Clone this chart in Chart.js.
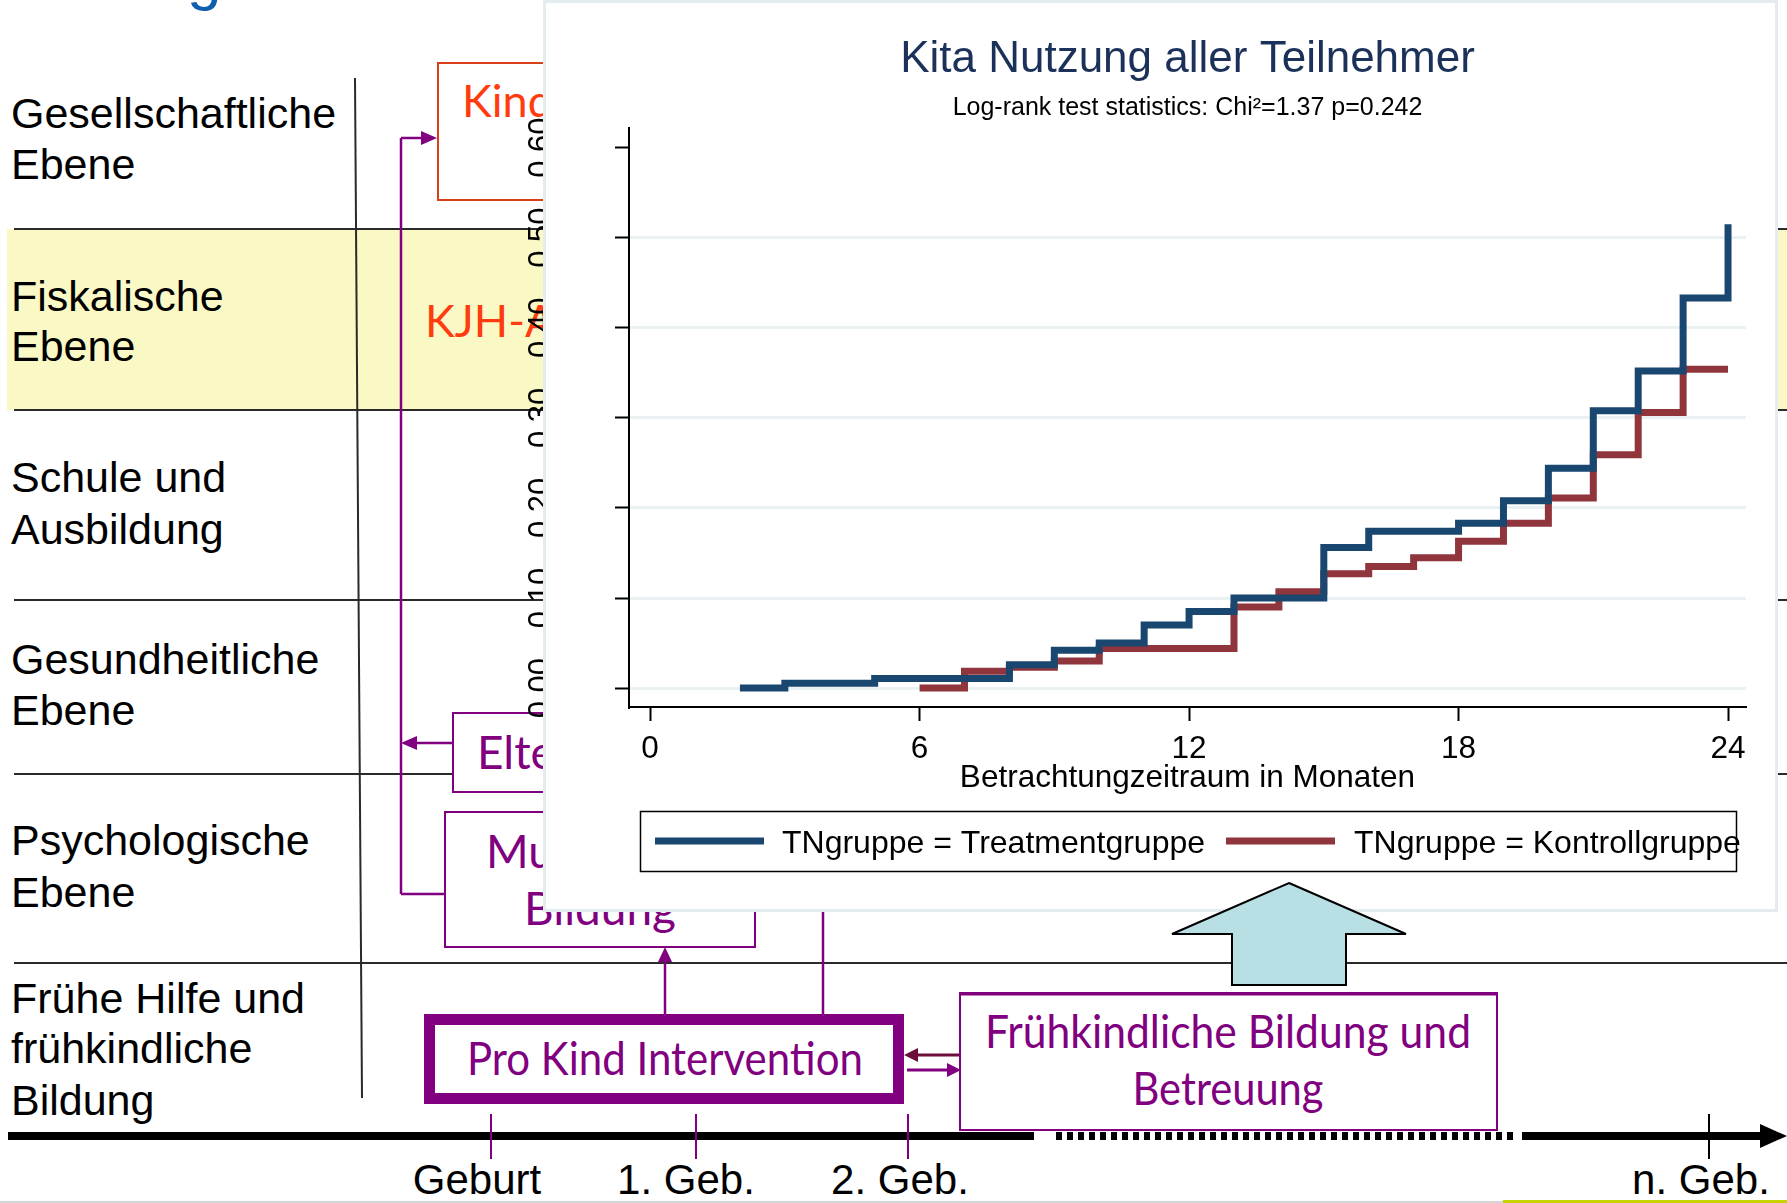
<!DOCTYPE html>
<html>
<head>
<meta charset="utf-8">
<title>Kita Nutzung aller Teilnehmer</title>
<script src="https://cdn.jsdelivr.net/npm/chart.js@4.4.1/dist/chart.umd.min.js"></script>
<style>
  html, body { margin: 0; padding: 0; background: #fff; }
  #stage { position: relative; width: 1787px; height: 1203px; overflow: hidden; }
  #bg, #fg, #chart { position: absolute; left: 0; top: 0; }
  #chart { z-index: 1; }
  #fg { z-index: 2; pointer-events: none; }
  .lbl { font-family: "Liberation Sans", Arial, sans-serif; font-size: 43px; fill: #000; }
  .tl { font-family: "Liberation Sans", Arial, sans-serif; font-size: 42px; fill: #000; text-anchor: middle; }
  .pur { font-family: Lato, "Open Sans", sans-serif; font-size: 46px; fill: #800080; }
  .red { font-family: Lato, "Open Sans", sans-serif; font-size: 45px; fill: #ff3b0f; }
</style>
</head>
<body>
<div id="stage">
  <!-- slide behind the chart -->
  <svg id="bg" width="1787" height="1203" viewBox="0 0 1787 1203">
    <text x="187" y="-2" style="font-family:'Liberation Sans',Arial,sans-serif;font-size:62px;fill:#0f5fb0">g</text>
    <rect x="7" y="229" width="1780" height="181" fill="#faf8c5"/>
    <g stroke="#2a2a2a" stroke-width="2">
      <line x1="14" y1="229" x2="1787" y2="229"/>
      <line x1="14" y1="410" x2="1787" y2="410"/>
      <line x1="14" y1="600" x2="1787" y2="600"/>
      <line x1="14" y1="774" x2="1787" y2="774"/>
      <line x1="14" y1="963" x2="1787" y2="963"/>
      <line x1="355" y1="78" x2="362" y2="1098"/>
    </g>

    <text class="lbl" x="11" y="128">Gesellschaftliche</text>
    <text class="lbl" x="11" y="179">Ebene</text>
    <text class="lbl" x="11" y="311">Fiskalische</text>
    <text class="lbl" x="11" y="361">Ebene</text>
    <text class="lbl" x="11" y="492">Schule und</text>
    <text class="lbl" x="11" y="544">Ausbildung</text>
    <text class="lbl" x="11" y="674">Gesundheitliche</text>
    <text class="lbl" x="11" y="725">Ebene</text>
    <text class="lbl" x="11" y="855">Psychologische</text>
    <text class="lbl" x="11" y="907">Ebene</text>
    <text class="lbl" x="11" y="1013">Frühe Hilfe und</text>
    <text class="lbl" x="11" y="1063">frühkindliche</text>
    <text class="lbl" x="11" y="1115">Bildung</text>

    <rect x="438" y="63" width="200" height="137" fill="#fff" stroke="#d9401a" stroke-width="2"/>
    <text class="red" x="462" y="117">Kind</text>
    <text class="red" x="425" y="337">KJH-A</text>

    <g stroke="#800080" stroke-width="2.5" fill="none">
      <line x1="401" y1="138" x2="401" y2="894"/>
      <line x1="401" y1="138" x2="423" y2="138"/>
      <line x1="401" y1="894" x2="445" y2="894"/>
      <line x1="453" y1="743" x2="415" y2="743"/>
      <line x1="665" y1="1014" x2="665" y2="960"/>
      <line x1="823" y1="1014" x2="823" y2="900"/>
    </g>
    <g fill="#800080">
      <polygon points="437,138 421,131 421,145"/>
      <polygon points="401,743 417,736 417,750"/>
      <polygon points="665,947 658,962 672,962"/>
    </g>

    <rect x="453" y="713" width="200" height="79" fill="#fff" stroke="#800080" stroke-width="2"/>
    <text class="pur" x="477" y="769">Elte</text>
    <rect x="445" y="812" width="310" height="135" fill="#fff" stroke="#800080" stroke-width="2"/>
    <text class="pur" x="486" y="868">Mu</text>
    <text class="pur" x="524" y="925" textLength="152" lengthAdjust="spacingAndGlyphs">Bildung</text>

    <rect x="429.5" y="1019.5" width="469" height="79" fill="#fff" stroke="#800080" stroke-width="11"/>
    <text class="pur" x="665" y="1075" text-anchor="middle" textLength="396" lengthAdjust="spacingAndGlyphs">Pro Kind Intervention</text>

    <line x1="967" y1="1055" x2="915" y2="1055" stroke="#6b0f3a" stroke-width="3"/>
    <polygon points="904,1055 918,1048 918,1062" fill="#6b0f3a"/>
    <line x1="907" y1="1070" x2="950" y2="1070" stroke="#800080" stroke-width="3"/>
    <polygon points="961,1070 947,1063 947,1077" fill="#800080"/>

    <rect x="960" y="993" width="537" height="137" fill="#fff" stroke="#800080" stroke-width="2"/>
    <line x1="960" y1="994" x2="1497" y2="994" stroke="#800080" stroke-width="3"/>
    <text class="pur" x="1228" y="1048" text-anchor="middle" textLength="486" lengthAdjust="spacingAndGlyphs">Frühkindliche Bildung und</text>
    <text class="pur" x="1228" y="1105" text-anchor="middle" textLength="191" lengthAdjust="spacingAndGlyphs">Betreuung</text>

    <g stroke="#000" stroke-width="8">
      <line x1="8" y1="1136" x2="1034" y2="1136"/>
      <line x1="1056" y1="1136" x2="1517" y2="1136" stroke-dasharray="6 5"/>
      <line x1="1522" y1="1136" x2="1764" y2="1136"/>
    </g>
    <polygon points="1787,1136 1760,1124 1760,1148" fill="#000"/>
    <g stroke-width="2">
      <line x1="491" y1="1114" x2="491" y2="1159" stroke="#800080"/>
      <line x1="696" y1="1114" x2="696" y2="1159" stroke="#800080"/>
      <line x1="908" y1="1114" x2="908" y2="1159" stroke="#800080"/>
      <line x1="1709" y1="1114" x2="1709" y2="1159" stroke="#000"/>
    </g>
    <text class="tl" x="477" y="1194">Geburt</text>
    <text class="tl" x="686" y="1194">1. Geb.</text>
    <text class="tl" x="900" y="1194">2. Geb.</text>
    <text class="tl" x="1701" y="1194">n. Geb.</text>
    <line x1="0" y1="1202" x2="1787" y2="1202" stroke="#d6d6d6" stroke-width="2"/>
    <line x1="1503" y1="1201.5" x2="1787" y2="1201.5" stroke="#c5d300" stroke-width="3"/>
  </svg>

  <canvas id="chart" width="1787" height="1203"></canvas>

  <!-- arrow lying over the chart panel -->
  <svg id="fg" width="1787" height="1203" viewBox="0 0 1787 1203">
    <polygon points="1289,883 1406,934 1346,934 1346,985 1232,985 1232,934 1172,934"
             fill="#b8dfe3" stroke="#000" stroke-width="2"/>
  </svg>
</div>

<script>
  // Kaplan-Meier style cumulative curves
  const treatTimes  = [2, 3, 5, 8, 9, 10, 11, 12, 13, 15, 16, 18, 19, 20, 21, 22, 23, 24];
  const treatValues = [0, 0.0055, 0.0106, 0.026, 0.042, 0.050, 0.070, 0.085, 0.100,
                       0.156, 0.174, 0.183, 0.208, 0.244, 0.308, 0.352, 0.433, 0.515];
  const ctrlTimes   = [6, 7, 8, 9, 10, 13, 14, 15, 16, 17, 18, 19, 20, 21, 22, 23, 24];
  const ctrlValues  = [0, 0.0187, 0.023, 0.030, 0.044, 0.090, 0.107, 0.127, 0.135,
                       0.1446, 0.163, 0.183, 0.211, 0.259, 0.306, 0.354, 0.354];
  const seriesLabels = ['TNgruppe = Treatmentgruppe', 'TNgruppe = Kontrollgruppe'];
  const seriesColors = ['#1a476f', '#90353b'];
  const xTicks = [0, 6, 12, 18, 24];
  const yTicks = [0, 0.1, 0.2, 0.3, 0.4, 0.5, 0.6];
  const yTickLabels = ['0.00', '0.10', '0.20', '0.30', '0.40', '0.50', '0.60'];

  const FONT = '"Liberation Sans", Arial, Helvetica, sans-serif';
  Chart.defaults.font.family = FONT;
  Chart.defaults.color = '#000';

  function toPoints(xs, ys) {
    return xs.map((x, i) => ({ x: x, y: ys[i] }));
  }

  /**
   * White graph panel + rotated y labels (they stick out left of the panel)
   */
  const panelPlugin = {
    id: 'panel',
    beforeDraw(chart) {
      const ctx = chart.ctx;
      const ys = chart.scales.y;

      ctx.save();
      ctx.beginPath();
      ctx.rect(0, 0, 543, chart.height);
      ctx.clip();
      ctx.font = '31px ' + FONT;
      ctx.fillStyle = '#000';
      ctx.textAlign = 'center';
      ctx.textBaseline = 'alphabetic';
      yTicks.forEach(function (v, i) {
        ctx.save();
        ctx.translate(550, ys.getPixelForValue(v));
        ctx.rotate(-Math.PI / 2);
        ctx.fillText(yTickLabels[i], 0, 0);
        ctx.restore();
      });
      ctx.restore();

      ctx.save();
      ctx.fillStyle = '#fff';
      ctx.fillRect(543, 0, 1235, 912);
      ctx.strokeStyle = '#e3ecef';
      ctx.lineWidth = 3;
      ctx.strokeRect(544.5, 1.5, 1232, 909);
      ctx.restore();
    }
  };

  /**
   * Stata-like legend box below the axis title
   */
  const legendBoxPlugin = {
    id: 'legendBox',
    afterDraw(chart) {
      const ctx = chart.ctx;
      const lineX = [655, 1226];
      const textX = [782, 1354];
      const y = 844;

      ctx.save();
      ctx.strokeStyle = '#000';
      ctx.lineWidth = 1.5;
      ctx.strokeRect(640.5, 811.5, 1096, 60);

      ctx.font = '32px ' + FONT;
      ctx.textBaseline = 'middle';
      ctx.textAlign = 'left';
      chart.data.datasets.forEach(function (ds, i) {
        ctx.strokeStyle = ds.borderColor;
        ctx.lineWidth = 7;
        ctx.beginPath();
        ctx.moveTo(lineX[i], 841);
        ctx.lineTo(lineX[i] + 109, 841);
        ctx.stroke();
        ctx.fillStyle = '#000';
        ctx.fillText(ds.label, textX[i], y);
      });
      ctx.restore();
    }
  };

  const ctx = document.getElementById('chart').getContext('2d');

  new Chart(ctx, {
    type: 'line',
    data: {
      datasets: [
        {
          label: seriesLabels[0],
          data: toPoints(treatTimes, treatValues),
          borderColor: seriesColors[0],
          backgroundColor: seriesColors[0],
          borderWidth: 7,
          stepped: 'before',
          pointRadius: 0,
          borderJoinStyle: 'miter',
          borderCapStyle: 'butt',
          fill: false
        },
        {
          label: seriesLabels[1],
          data: toPoints(ctrlTimes, ctrlValues),
          borderColor: seriesColors[1],
          backgroundColor: seriesColors[1],
          borderWidth: 7,
          stepped: 'before',
          pointRadius: 0,
          borderJoinStyle: 'miter',
          borderCapStyle: 'butt',
          fill: false
        }
      ]
    },
    options: {
      responsive: false,
      animation: false,
      devicePixelRatio: 1,
      layout: {
        padding: { left: 629, right: 41, top: 0, bottom: 402 }
      },
      plugins: {
        legend: { display: false },
        tooltip: { enabled: false },
        title: {
          display: true,
          text: 'Kita Nutzung aller Teilnehmer',
          color: '#1c3159',
          font: { size: 44, weight: 'normal' },
          padding: { top: 33, bottom: 0 }
        },
        subtitle: {
          display: true,
          text: 'Log-rank test statistics: Chi²=1.37 p=0.242',
          color: '#000',
          font: { size: 25, weight: 'normal' },
          padding: { top: 7, bottom: 5 }
        }
      },
      scales: {
        x: {
          type: 'linear',
          min: -0.47,
          max: 24.4,
          afterBuildTicks: function (scale) {
            scale.ticks = xTicks.map(v => ({ value: v }));
          },
          afterFit: function (scale) {
            scale.height = 94;
          },
          ticks: {
            font: { size: 31.5 },
            color: '#000',
            padding: 9,
            maxRotation: 0,
            autoSkip: false
          },
          grid: {
            drawOnChartArea: false,
            drawTicks: true,
            tickLength: 14,
            tickColor: '#000',
            tickWidth: 2
          },
          border: { display: true, color: '#000', width: 2 },
          title: {
            display: true,
            text: 'Betrachtungzeitraum in Monaten',
            color: '#000',
            font: { size: 31.5 },
            padding: { top: 4, bottom: 4 }
          }
        },
        y: {
          type: 'linear',
          min: -0.021,
          max: 0.622,
          afterBuildTicks: function (scale) {
            scale.ticks = yTicks.map(v => ({ value: v }));
          },
          afterFit: function (scale) {
            scale.width = 0;
          },
          ticks: { display: false },
          grid: {
            color: function (c) {
              return c.tick && c.tick.value > 0.55 ? 'rgba(0,0,0,0)' : '#e9f1f3';
            },
            lineWidth: 3,
            drawTicks: true,
            tickLength: 14,
            tickColor: '#000',
            tickWidth: 2
          },
          border: { display: true, color: '#000', width: 2 }
        }
      }
    },
    plugins: [panelPlugin, legendBoxPlugin]
  });
</script>
</body>
</html>
